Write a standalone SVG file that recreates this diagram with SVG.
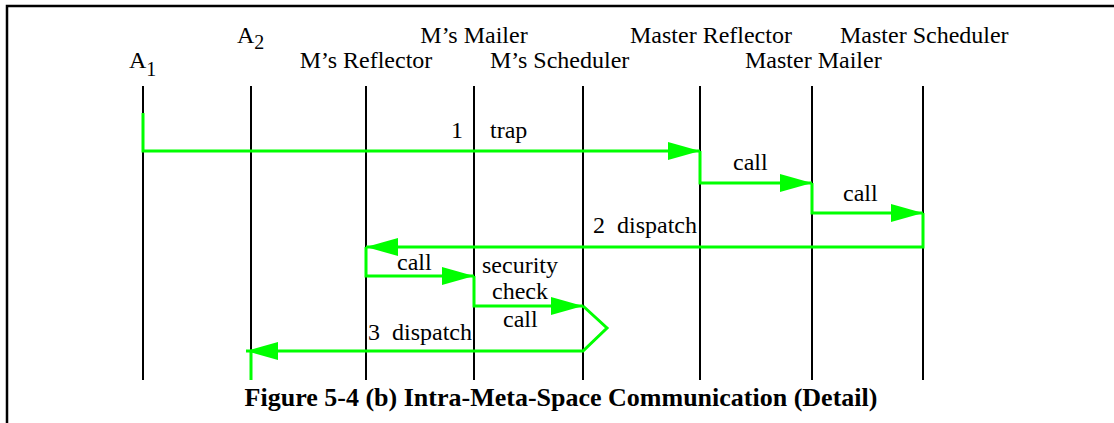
<svg xmlns="http://www.w3.org/2000/svg" width="1114" height="423" viewBox="0 0 1114 423">
<style>
text{font-family:"Liberation Serif","Times New Roman",serif;font-size:24px;fill:#000}
.title{font-weight:bold;font-size:26px}
.life{stroke:#000;stroke-width:2;fill:none}
.msg{stroke:#00ff00;stroke-width:3;fill:none;stroke-linejoin:miter}
.frame{stroke:#000;stroke-width:2.5;fill:none}
</style>
<defs>
<marker id="ah" markerUnits="userSpaceOnUse" markerWidth="32" markerHeight="20" viewBox="0 0 32 20" refX="32" refY="10" orient="auto">
<path d="M0,1 L32,10 L0,19 Z" fill="#00ff00"/>
</marker>
</defs>
<rect width="1114" height="423" fill="#fff"/>
<path class="frame" d="M7,423 V6 H1114"/>
<g id="lifelines">
<g id="A1"><line class="life" x1="143" y1="86" x2="143" y2="380"/><text x="129" y="68">A<tspan dy="8" font-size="20">1</tspan></text></g>
<g id="A2"><line class="life" x1="251" y1="86" x2="251" y2="380"/><text x="237" y="43">A<tspan dy="6" font-size="20">2</tspan></text></g>
<g id="MsReflector"><line class="life" x1="366" y1="86" x2="366" y2="380"/><text x="366" y="68" text-anchor="middle">M’s Reflector</text></g>
<g id="MsMailer"><line class="life" x1="474" y1="86" x2="474" y2="380"/><text x="474" y="43" text-anchor="middle">M’s Mailer</text></g>
<g id="MsScheduler"><line class="life" x1="583" y1="86" x2="583" y2="380"/><text x="490" y="68">M’s Scheduler</text></g>
<g id="MasterReflector"><line class="life" x1="700" y1="86" x2="700" y2="380"/><text x="630" y="43">Master Reflector</text></g>
<g id="MasterMailer"><line class="life" x1="812" y1="86" x2="812" y2="380"/><text x="745" y="68">Master Mailer</text></g>
<g id="MasterScheduler"><line class="life" x1="923" y1="86" x2="923" y2="380"/><text x="840" y="43">Master Scheduler</text></g>
</g>
<g id="connectors">
<path class="msg" d="M143,113 V151 H700" marker-end="url(#ah)"/>
<path class="msg" d="M700,151 V183 H812" marker-end="url(#ah)"/>
<path class="msg" d="M812,183 V213 H923" marker-end="url(#ah)"/>
<path class="msg" d="M923,213 V247 H366" marker-end="url(#ah)"/>
<path class="msg" d="M366,247 V276 H474" marker-end="url(#ah)"/>
<path class="msg" d="M474,276 V306 H583" marker-end="url(#ah)"/>
<path class="msg" d="M583,306 L607,328 L583,351 H246" marker-end="url(#ah)"/>
<path class="msg" d="M251,351 V380"/>
</g>
<g id="labels">
<text x="463" y="138" text-anchor="end">1</text>
<text x="490" y="138">trap</text>
<text x="733" y="170">call</text>
<text x="843" y="201">call</text>
<text x="697" y="233" text-anchor="end" style="white-space:pre">2  dispatch</text>
<text x="397" y="270">call</text>
<text x="520" y="273" text-anchor="middle">security</text>
<text x="520" y="299" text-anchor="middle">check</text>
<text x="503" y="327">call</text>
<text x="472" y="340" text-anchor="end" style="white-space:pre">3  dispatch</text>
</g>
<text class="title" x="561" y="406" text-anchor="middle">Figure 5-4 (b) Intra-Meta-Space Communication (Detail)</text>
</svg>
